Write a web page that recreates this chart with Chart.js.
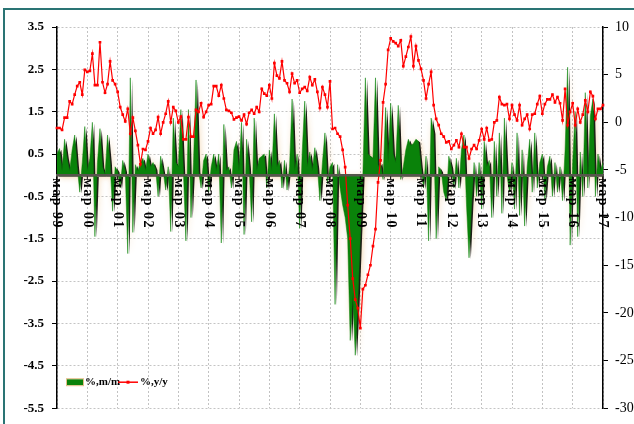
<!DOCTYPE html>
<html>
<head>
<meta charset="utf-8">
<script src="https://cdn.jsdelivr.net/npm/chart.js"></script>
<style>
  body { margin: 0; background: #fff; }
  #wrap { position: relative; width: 634px; height: 424px; overflow: hidden; }
  #frame { position: absolute; left: 3px; top: 8px; width: 700px; height: 500px;
           border-left: 2px solid #2a7474; border-top: 2px solid #2a7474; pointer-events: none; }
</style>
</head>
<body>
<div id="wrap">
  <canvas id="chart" width="634" height="424"></canvas>
  <div id="frame"></div>
</div>
<script>
// tick labels on the zero line, one per March
var tickLabels = ['мар 99', 'мар 00', 'мар 01', 'мар 02', 'мар 03', 'мар 04', 'мар 05', 'мар 06', 'мар 07',
    'мар 08', 'мар 09', 'мар 10', 'мар 11', 'мар 12', 'мар 13', 'мар 14', 'мар 15', 'мар 16', 'мар 17'];
var seriesNames = ['%,m/m', '%,y/y'];

// %, m/m  (left axis), March .. February of each year
var mm99 = [0.5, 0.63, 0.1, 0.85, 0.4, 0.1, 0.6, 0.95, 0.2, -0.4, 0.3, 1.15];
var mm00 = [0.1, 0.4, 1.25, -1.45, 0.3, 1.1, 0.2, 0.0, 0.95, 0.3, -0.85, 0.2];
var mm01 = [0.1, -0.3, 0.35, 0.1, -1.85, 2.3, -1.35, 0.25, 0.1, 0.3, 0.4, 0.1];
var mm02 = [0.5, 0.2, 0.3, 0.15, -0.5, 0.45, 0.1, -0.35, 0.2, -1.33, 1.35, 0.3];
var mm03 = [0.2, 1.55, 0.1, -1.55, 1.55, -1.0, 0.3, 2.25, 0.1, -0.3, 0.35, 0.5];
var mm04 = [-0.4, 0.2, 0.5, 0.1, 0.5, -1.6, 1.2, 0.1, 0.2, -0.3, 0.6, 0.8];
var mm05 = [0.1, 1.25, -1.4, 0.85, 0.2, -1.1, 1.35, 0.1, 0.4, 0.45, 0.5, -0.3];
var mm06 = [0.6, 0.1, 1.45, 0.2, 0.35, -0.3, 0.35, -0.35, 0.2, 1.8, 0.1, 0.5];
var mm07 = [-1.25, 0.55, 1.75, 0.2, 0.55, 0.1, 0.65, 0.2, -0.6, 0.3, 1.0, -0.2];
var mm08 = [0.2, 0.3, -3.05, 0.25, -0.3, -0.7, -1.0, -1.5, -3.9, -2.8, -4.25, -3.0];
var mm09 = [-1.4, 0.0, 2.3, 0.5, 0.45, 0.4, 2.3, 0.2, 0.3, -0.1, 1.6, 0.3];
var mm10 = [1.7, 0.5, 0.3, 1.65, -0.1, 0.2, 0.6, 0.85, 0.7, 0.75, 0.85, 0.8];
var mm11 = [0.2, -0.3, 0.45, -1.55, 1.35, 1.0, -1.5, 0.2, 0.1, -0.4, -0.6, 0.45];
var mm12 = [0.2, -0.3, 0.4, -0.3, 0.6, 0.95, -0.7, -1.95, -0.7, 0.3, -0.5, 0.3];
var mm13 = [-0.8, 0.8, 0.2, 0.35, -1.0, 0.8, -0.5, 1.0, -0.9, 1.35, 0.0, -0.4];
var mm14 = [0.3, -0.8, 1.0, -0.95, 0.6, -1.2, 0.2, 0.85, -0.4, 1.0, -0.3, 0.3];
var mm15 = [0.5, -0.6, 0.2, 0.45, -0.5, 0.3, -0.4, 0.2, -0.6, 0.6, 2.55, -1.65];
var mm16 = [0.3, 1.5, -1.45, 0.55, -0.5, 1.95, -0.3, 1.4, 1.8, -0.5, 0.5, 0.1];
var mm17 = [0.3];

// %, y/y  (right axis)
var yoy99 = [-0.6, -0.6, -0.8, 0.5, 0.5, 2.2, 1.9, 2.9, 3.8, 4.2, 2.9, 5.5];
var yoy00 = [5.3, 5.4, 7.2, 3.9, 3.9, 8.4, 4.2, 3.1, 4.0, 6.4, 4.4, 4.0];
var yoy01 = [3.2, 1.6, 0.8, 0.1, 1.4, -1.2, 0.5, -0.9, -2.4, -4.4, -2.8, -2.9];
var yoy02 = [-2.0, -0.6, -1.2, -0.8, 0.55, -1.2, 0.0, 0.9, 2.2, 0.0, 1.6, 1.2];
var yoy03 = [0.0, 0.6, -1.8, -1.8, 0.55, -1.5, -1.5, 1.3, 1.1, 2.0, 0.55, 1.1];
var yoy04 = [1.8, 1.9, 3.8, 3.8, 2.8, 3.9, 2.5, 1.3, 1.2, 1.0, 0.3, 0.5];
var yoy05 = [0.6, 0.2, 0.8, -0.2, 1.0, 1.3, 0.9, 1.6, 1.1, 3.5, 3.0, 2.8];
var yoy06 = [3.9, 2.5, 6.2, 4.9, 4.6, 6.4, 4.4, 4.1, 3.2, 5.1, 4.1, 4.4];
var yoy07 = [3.1, 3.5, 3.7, 3.3, 4.75, 3.9, 4.5, 3.2, 1.5, 3.7, 2.9, 1.6];
var yoy08 = [4.3, -0.7, -0.6, -1.2, -1.5, -2.9, -4.7, -8.7, -12.2, -16.4, -18.6, -19.5];
var yoy09 = [-21.6, -17.5, -17.1, -16.0, -15.0, -13.0, -11.2, -6.3, -4.0, 2.1, 4.0, 7.6];
var yoy10 = [8.8, 8.5, 8.3, 8.0, 8.6, 5.9, 6.9, 7.9, 9.0, 5.9, 8.0, 6.5];
var yoy11 = [5.6, 4.4, 2.5, 4.0, 5.3, 1.8, 0.35, -0.3, -1.2, -1.5, -2.1, -2.0];
var yoy12 = [-2.8, -2.4, -1.9, -2.6, -1.2, -2.6, -2.6, -3.8, -2.8, -2.4, -2.8, -1.9];
var yoy13 = [-0.7, -1.8, -0.6, -1.9, -1.8, 0.0, 0.2, 2.65, 1.9, 1.8, 1.9, 0.35];
var yoy14 = [1.8, 0.8, 0.2, 1.8, -0.3, 0.35, 0.8, -0.7, 0.8, 0.9, 1.9, 2.75];
var yoy15 = [0.9, 1.9, 2.4, 2.4, 2.9, 2.1, 2.65, 2.0, 0.2, 3.5, -0.3, 1.1];
var yoy16 = [2.0, -0.3, 1.4, 0.0, 0.8, 2.3, 1.1, 3.2, 2.75, 0.35, 1.4, 1.4];
var yoy17 = [1.8];

var mm = [].concat(mm99, mm00, mm01, mm02, mm03, mm04, mm05, mm06, mm07, mm08,
    mm09, mm10, mm11, mm12, mm13, mm14, mm15, mm16, mm17);
var yoy = [].concat(yoy99, yoy00, yoy01, yoy02, yoy03, yoy04, yoy05, yoy06, yoy07, yoy08,
    yoy09, yoy10, yoy11, yoy12, yoy13, yoy14, yoy15, yoy16, yoy17);

// one category per month, starting March 1999
var months = [];
for (let i = 0; i < mm.length; i++) {
    let year = 1999 + Math.floor((i + 2) / 12);
    let month = (i + 2) % 12 + 1;
    months.push(year + '-' + String(month).padStart(2, '0'));
}

var serif = '"Liberation Serif", "Times New Roman", serif';

var extras = {
    id: 'extras',
    // dark drop shadow with a beige glow behind the m/m area
    beforeDatasetsDraw(chart) {
        var meta = chart.getDatasetMeta(0);
        var pts = meta.data;
        var y0 = chart.scales.y.getPixelForValue(0);
        var a = chart.chartArea;
        var ctx = chart.ctx;
        ctx.save();
        ctx.beginPath();
        ctx.rect(a.left, a.top, a.right - a.left, a.bottom - a.top);
        ctx.clip();
        ctx.translate(1.8, 1.2);
        ctx.beginPath();
        ctx.moveTo(pts[0].x, y0);
        pts.forEach(p => ctx.lineTo(p.x, p.y));
        ctx.lineTo(pts[pts.length - 1].x, y0);
        ctx.closePath();
        ctx.shadowColor = 'rgba(238, 200, 150, 0.95)';
        ctx.shadowBlur = 6;
        ctx.fillStyle = '#1c1c16';
        ctx.fill();
        ctx.restore();
    },
    // rotated March labels hanging under the zero line
    afterDatasetsDraw(chart) {
        var ctx = chart.ctx;
        var y0 = chart.scales.y.getPixelForValue(0);
        ctx.save();
        ctx.fillStyle = '#000';
        ctx.strokeStyle = '#000';
        ctx.lineWidth = 1;
        ctx.font = 'bold 14px ' + serif;
        if ('letterSpacing' in ctx) ctx.letterSpacing = '1.5px';
        tickLabels.forEach((label, i) => {
            let x = chart.scales.x.getPixelForValue(i * 12);
            ctx.beginPath();
            ctx.moveTo(x, y0);
            ctx.lineTo(x, y0 + 4);
            ctx.stroke();
            ctx.save();
            ctx.translate(x, y0 + 3);
            ctx.rotate(Math.PI / 2);
            ctx.textAlign = 'left';
            ctx.textBaseline = 'middle';
            ctx.fillText(label, 0, 0);
            ctx.restore();
        });
        ctx.restore();
    },
    // legend in the lower left corner of the plot
    afterDraw(chart) {
        var ctx = chart.ctx;
        var a = chart.chartArea;
        var x = a.left + 10;
        var y = a.bottom - 26;
        ctx.save();
        ctx.fillStyle = '#0a820a';
        ctx.fillRect(x, y - 3, 16, 6);
        ctx.strokeStyle = '#e3bf88';
        ctx.lineWidth = 1;
        ctx.strokeRect(x - 0.5, y - 3.5, 17, 7);
        ctx.fillStyle = '#000';
        ctx.font = 'bold 11px ' + serif;
        ctx.textBaseline = 'middle';
        ctx.fillText(seriesNames[0], x + 18, y);
        ctx.strokeStyle = '#ff0000';
        ctx.lineWidth = 1.5;
        ctx.beginPath();
        ctx.moveTo(x + 51, y);
        ctx.lineTo(x + 71, y);
        ctx.stroke();
        ctx.fillStyle = '#ff0000';
        ctx.fillRect(x + 59.5, y - 1.5, 3, 3);
        ctx.fillStyle = '#000';
        ctx.fillText(seriesNames[1], x + 73, y);
        ctx.restore();
    }
};

new Chart(document.getElementById('chart'), {
    type: 'line',
    data: {
        labels: months,
        datasets: [
            {
                label: seriesNames[0],
                data: mm,
                yAxisID: 'y',
                fill: 'origin',
                backgroundColor: '#0a820a',
                borderColor: '#0a820a',
                borderWidth: 0.5,
                pointRadius: 0,
                tension: 0,
                order: 2
            },
            {
                label: seriesNames[1],
                data: yoy,
                yAxisID: 'y1',
                fill: false,
                borderColor: '#ff0000',
                borderWidth: 1.2,
                pointRadius: 1.9,
                pointStyle: 'rect',
                pointBackgroundColor: '#ff0000',
                pointBorderWidth: 0,
                tension: 0,
                order: 1
            }
        ]
    },
    options: {
        responsive: false,
        animation: false,
        layout: { padding: { top: 27, bottom: 14, left: 0, right: 0 } },
        plugins: { legend: { display: false }, tooltip: { enabled: false } },
        scales: {
            x: {
                type: 'category',
                position: { y: 0 },
                offset: false,
                ticks: { display: false },
                grid: {
                    color: c => c.index % 12 === 0 ? '#c2c2c2' : 'rgba(0,0,0,0)',
                    lineWidth: 1,
                    drawTicks: false
                },
                border: { display: true, color: '#56564c', width: 2.5, dash: [2, 2], z: 1 }
            },
            y: {
                position: 'left',
                min: -5.5,
                max: 3.5,
                ticks: {
                    stepSize: 1,
                    color: '#000',
                    padding: 8,
                    font: { family: serif, size: 13, weight: 'bold' },
                    callback: v => v.toFixed(1)
                },
                grid: { color: '#c4c4c4', tickColor: '#000', tickLength: 5 },
                border: { color: '#000', width: 1.5, dash: [2, 2] },
                afterFit: s => { s.width = 57; }
            },
            y1: {
                position: 'right',
                min: -30,
                max: 10,
                ticks: {
                    stepSize: 5,
                    color: '#000',
                    padding: 7,
                    font: { family: serif, size: 14 }
                },
                grid: { drawOnChartArea: false, tickColor: '#000', tickLength: 5 },
                border: { color: '#000', width: 1.5 },
                afterFit: s => { s.width = 31; }
            }
        }
    },
    plugins: [extras]
});
</script>
</body>
</html>
